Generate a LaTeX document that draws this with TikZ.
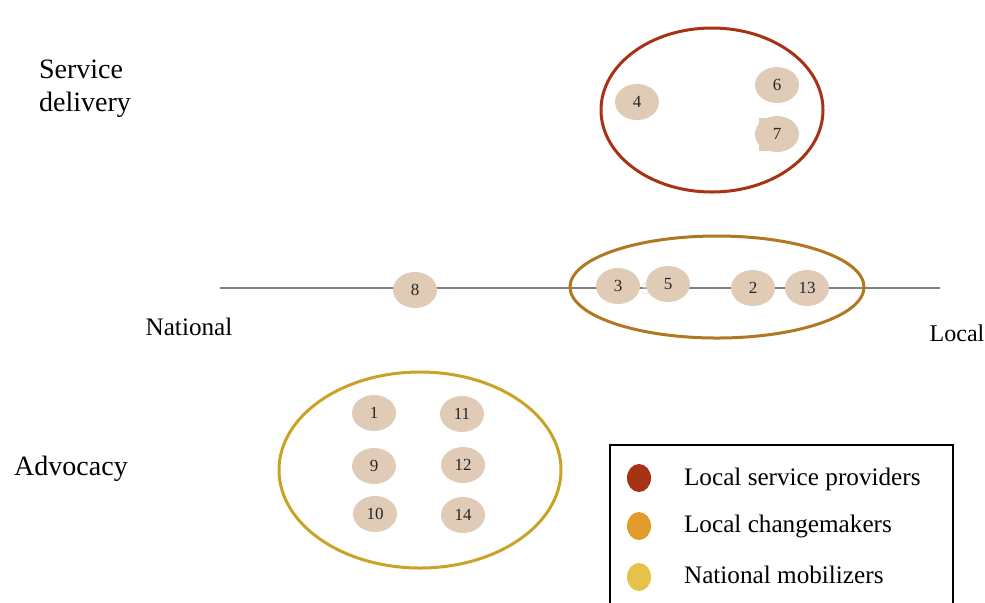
\documentclass[tikz,border=0pt]{standalone}
\usepackage{fontspec}
\setmainfont{Liberation Serif}
\usetikzlibrary{positioning,shapes.geometric}
\definecolor{svcred}{HTML}{A83214}
\definecolor{chgbrown}{HTML}{B07820}
\definecolor{natgold}{HTML}{C9A227}
\definecolor{legorange}{HTML}{E29A2A}
\definecolor{legyellow}{HTML}{E5C24A}
\definecolor{orgtan}{HTML}{E0CBB6}
\definecolor{axisgray}{HTML}{808080}

\begin{document}
\begin{tikzpicture}[x=0.5pt,y=-0.5pt,
  org/.style={ellipse,fill=orgtan,minimum width=22pt,minimum height=18pt,
              inner sep=0pt,font=\fontsize{8.5}{9}\selectfont,text=black!85},
  group/.style={ellipse,draw,line width=1.5pt,inner sep=0pt},
  dimen/.style={font=\fontsize{14}{16.5}\selectfont,align=left},
  legdot/.style={ellipse,minimum width=12pt,minimum height=14pt,inner sep=0pt},
  legtext/.style={font=\fontsize{12.6}{15}\selectfont,anchor=west},
  axis/.style={draw=axisgray,line width=0.75pt}
]
  \useasboundingbox (0,0) rectangle (985,602);

  % ---- Axis: national to local ---------------------------------
  \coordinate (natend) at (220,288);
  \coordinate (locend) at (940,288);
  \draw[axis] (natend) -- (locend);
  \node[font=\fontsize{12.6}{15}\selectfont] (natl) at (189,327) {National};
  \node[font=\fontsize{12}{15}\selectfont] (locl) at (957,333) {Local};

  % ---- Dimension labels ----------------------------------------
  \node[dimen] (svc) at (85,89) {Service\\delivery};
  \node[dimen] (adv) at (71,469) {Advocacy};

  % ---- Group outlines ------------------------------------------
  \node[group,draw=svcred,minimum width=111pt,minimum height=82pt]
    (grpsvc) at (712,110) {};
  \node[group,draw=chgbrown,minimum width=147pt,minimum height=51pt]
    (grpchg) at (717,287) {};
  \node[group,draw=natgold,minimum width=141pt,minimum height=98pt]
    (grpnat) at (420,470) {};

  % ---- Organisations -------------------------------------------
  \node[org] (o4) at (637,102) {4};
  \node[org] (o6) at (777,85) {6};
  \fill[orgtan] (759,118) rectangle (777,151);
  \node[org] (o7) at (777,134) {7};

  \node[org] (o8) at (415,290) {8};
  \node[font=\fontsize{8.5}{9}\selectfont,text=black!12] (o5ghost) at (646,289) {5};
  \node[org] (o3) at (618,286) {3};
  \node[org] (o5) at (668,284) {5};
  \node[org] (o2) at (753,288) {2};
  \node[org] (o13) at (807,288) {13};

  \node[org] (o1) at (374,413) {1};
  \node[org] (o11) at (462,414) {11};
  \node[org] (o9) at (374,466) {9};
  \node[org] (o12) at (463,465) {12};
  \node[org] (o10) at (375,514) {10};
  \node[org] (o14) at (463,515) {14};

  % ---- Legend --------------------------------------------------
  \draw[line width=1pt] (610,610) |- (953,445) -- (953,610);
  \node[legdot,fill=svcred] (dsvc) at (639,478) {};
  \node[legdot,fill=legorange] (dchg) at (639,526) {};
  \node[legdot,fill=legyellow] (dnat) at (639,577) {};
  \node[legtext] (tsvc) at (677,479) {Local service providers};
  \node[legtext] (tchg) at (677,526) {Local changemakers};
  \node[legtext] (tnat) at (677,575) {National mobilizers};

\end{tikzpicture}
\end{document}
